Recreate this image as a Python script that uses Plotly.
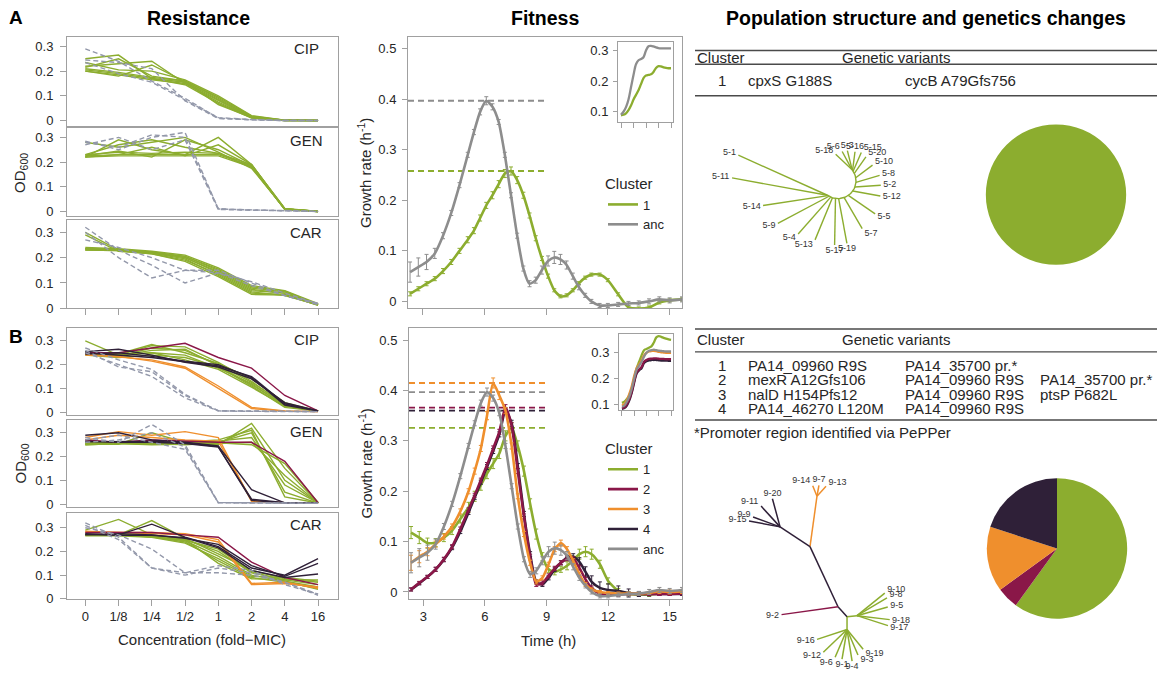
import math
import plotly.graph_objects as go

W, H = 1166, 680
FONT = 'Liberation Sans, Arial, Helvetica, sans-serif'
TXT = '#262626'
BOX = '#a0a0a0'

GREEN = '#8cad2f'
MAROON = '#8a1748'
ORANGE = '#ef8f2d'
DARK = '#2f2038'
ANC = '#8d8d8d'
ANC_DASH = '#9398aa'
COL = {'1': GREEN, '2': MAROON, '3': ORANGE, '4': DARK, 'anc': ANC}

# ---------------- Resistance (OD600 vs fold-MIC) ----------------
conc_labels = ['0', '1/8', '1/4', '1/2', '1', '2', '4', '16']
od_ticks = [0, 0.1, 0.2, 0.3]
od_ticklabels = ['0', '0.1', '0.2', '0.3']

A_CIP_c1 = [
    [0.200, 0.185, 0.165, 0.150, 0.075, 0.012, 0.000, 0.000],
    [0.205, 0.190, 0.170, 0.155, 0.085, 0.015, 0.001, 0.000],
    [0.210, 0.195, 0.175, 0.160, 0.095, 0.018, 0.002, 0.000],
    [0.250, 0.265, 0.170, 0.145, 0.070, 0.010, 0.000, 0.000],
    [0.220, 0.230, 0.240, 0.150, 0.080, 0.012, 0.000, 0.000],
    [0.235, 0.205, 0.200, 0.165, 0.100, 0.020, 0.002, 0.000],
    [0.215, 0.250, 0.180, 0.160, 0.090, 0.015, 0.001, 0.000],
    [0.200, 0.180, 0.225, 0.158, 0.065, 0.012, 0.000, 0.000],
]
A_CIP_anc = [
    [0.290, 0.240, 0.160, 0.090, 0.010, 0.003, 0.000, 0.000],
    [0.245, 0.235, 0.210, 0.080, 0.008, 0.003, 0.000, 0.000],
    [0.235, 0.190, 0.155, 0.085, 0.012, 0.004, 0.000, 0.000],
]
A_GEN_c1 = [
    [0.220, 0.225, 0.225, 0.225, 0.225, 0.180, 0.010, 0.000],
    [0.225, 0.230, 0.230, 0.230, 0.230, 0.185, 0.008, 0.000],
    [0.230, 0.240, 0.235, 0.240, 0.235, 0.190, 0.010, 0.001],
    [0.220, 0.290, 0.250, 0.230, 0.300, 0.190, 0.012, 0.000],
    [0.280, 0.260, 0.280, 0.300, 0.240, 0.175, 0.010, 0.000],
    [0.225, 0.245, 0.220, 0.290, 0.250, 0.185, 0.008, 0.000],
    [0.230, 0.270, 0.290, 0.260, 0.235, 0.180, 0.010, 0.000],
    [0.220, 0.230, 0.260, 0.225, 0.270, 0.190, 0.010, 0.000],
]
A_GEN_anc = [
    [0.285, 0.250, 0.300, 0.320, 0.010, 0.005, 0.003, 0.000],
    [0.270, 0.300, 0.250, 0.290, 0.008, 0.004, 0.003, 0.000],
    [0.280, 0.260, 0.310, 0.300, 0.012, 0.005, 0.004, 0.000],
]
A_CAR_c1 = [
    [0.235, 0.230, 0.220, 0.200, 0.140, 0.070, 0.060, 0.015],
    [0.235, 0.230, 0.222, 0.205, 0.150, 0.080, 0.065, 0.015],
    [0.230, 0.228, 0.218, 0.195, 0.130, 0.060, 0.055, 0.012],
    [0.240, 0.235, 0.225, 0.210, 0.160, 0.090, 0.070, 0.018],
    [0.300, 0.230, 0.220, 0.200, 0.145, 0.075, 0.060, 0.015],
    [0.290, 0.225, 0.215, 0.190, 0.135, 0.065, 0.050, 0.014],
    [0.235, 0.232, 0.220, 0.205, 0.155, 0.085, 0.068, 0.016],
    [0.230, 0.228, 0.215, 0.185, 0.125, 0.055, 0.052, 0.013],
]
A_CAR_anc = [
    [0.320, 0.230, 0.170, 0.100, 0.140, 0.090, 0.050, 0.015],
    [0.300, 0.200, 0.120, 0.150, 0.150, 0.100, 0.050, 0.020],
    [0.270, 0.240, 0.200, 0.150, 0.140, 0.105, 0.060, 0.018],
]

B_CIP_c1 = [
    [0.300, 0.240, 0.250, 0.240, 0.185, 0.120, 0.025, 0.005],
    [0.250, 0.240, 0.280, 0.275, 0.210, 0.130, 0.030, 0.005],
    [0.245, 0.235, 0.270, 0.260, 0.200, 0.125, 0.035, 0.005],
    [0.240, 0.230, 0.240, 0.230, 0.190, 0.110, 0.020, 0.004],
    [0.255, 0.245, 0.285, 0.250, 0.205, 0.140, 0.040, 0.005],
    [0.250, 0.238, 0.260, 0.265, 0.195, 0.115, 0.030, 0.004],
    [0.245, 0.240, 0.250, 0.220, 0.180, 0.105, 0.025, 0.005],
]
B_CIP_c2 = [[0.250, 0.250, 0.270, 0.290, 0.230, 0.185, 0.070, 0.005]]
B_CIP_c3 = [
    [0.240, 0.235, 0.215, 0.185, 0.100, 0.015, 0.004, 0.002],
    [0.245, 0.232, 0.220, 0.190, 0.110, 0.020, 0.005, 0.002],
]
B_CIP_c4 = [
    [0.255, 0.265, 0.240, 0.210, 0.190, 0.140, 0.040, 0.005],
    [0.250, 0.240, 0.230, 0.212, 0.195, 0.150, 0.035, 0.005],
    [0.245, 0.250, 0.235, 0.215, 0.200, 0.145, 0.030, 0.004],
]
B_CIP_anc = [
    [0.270, 0.220, 0.180, 0.075, 0.005, 0.004, 0.002, 0.002],
    [0.250, 0.200, 0.150, 0.060, 0.005, 0.003, 0.002, 0.002],
    [0.260, 0.190, 0.170, 0.070, 0.006, 0.004, 0.002, 0.002],
]
B_GEN_c1 = [
    [0.255, 0.255, 0.255, 0.255, 0.250, 0.340, 0.150, 0.005],
    [0.250, 0.255, 0.250, 0.252, 0.255, 0.320, 0.100, 0.005],
    [0.255, 0.260, 0.255, 0.255, 0.260, 0.300, 0.050, 0.004],
    [0.260, 0.258, 0.252, 0.258, 0.265, 0.280, 0.080, 0.005],
    [0.252, 0.252, 0.300, 0.260, 0.255, 0.260, 0.120, 0.005],
    [0.258, 0.260, 0.258, 0.262, 0.270, 0.310, 0.030, 0.004],
    [0.250, 0.255, 0.256, 0.250, 0.258, 0.250, 0.170, 0.006],
]
B_GEN_c2 = [[0.270, 0.260, 0.270, 0.265, 0.260, 0.260, 0.180, 0.005]]
B_GEN_c3 = [
    [0.280, 0.305, 0.290, 0.305, 0.280, 0.010, 0.005, 0.004],
    [0.270, 0.290, 0.280, 0.270, 0.265, 0.015, 0.005, 0.004],
]
B_GEN_c4 = [
    [0.290, 0.300, 0.270, 0.260, 0.245, 0.060, 0.005, 0.004],
    [0.265, 0.260, 0.260, 0.255, 0.240, 0.020, 0.005, 0.004],
    [0.262, 0.265, 0.265, 0.258, 0.242, 0.015, 0.004, 0.004],
]
B_GEN_anc = [
    [0.280, 0.260, 0.335, 0.250, 0.006, 0.005, 0.004, 0.003],
    [0.260, 0.270, 0.300, 0.240, 0.005, 0.004, 0.004, 0.003],
    [0.270, 0.290, 0.260, 0.230, 0.006, 0.005, 0.004, 0.003],
]
B_CAR_c1 = [
    [0.270, 0.270, 0.265, 0.250, 0.200, 0.110, 0.080, 0.060],
    [0.268, 0.268, 0.262, 0.245, 0.180, 0.100, 0.075, 0.050],
    [0.272, 0.270, 0.262, 0.240, 0.160, 0.090, 0.070, 0.045],
    [0.290, 0.335, 0.270, 0.250, 0.150, 0.085, 0.080, 0.080],
    [0.270, 0.270, 0.330, 0.255, 0.190, 0.120, 0.085, 0.070],
    [0.266, 0.266, 0.260, 0.235, 0.170, 0.095, 0.090, 0.075],
    [0.270, 0.272, 0.266, 0.248, 0.210, 0.115, 0.075, 0.040],
]
B_CAR_c2 = [[0.280, 0.280, 0.280, 0.270, 0.260, 0.155, 0.090, 0.060]]
B_CAR_c3 = [
    [0.285, 0.280, 0.280, 0.275, 0.250, 0.065, 0.070, 0.045],
    [0.280, 0.280, 0.275, 0.270, 0.240, 0.060, 0.065, 0.050],
]
B_CAR_c4 = [
    [0.275, 0.270, 0.315, 0.260, 0.220, 0.130, 0.100, 0.170],
    [0.270, 0.275, 0.270, 0.255, 0.230, 0.140, 0.095, 0.150],
    [0.272, 0.268, 0.268, 0.258, 0.215, 0.120, 0.090, 0.105],
]
B_CAR_anc = [
    [0.310, 0.250, 0.130, 0.100, 0.130, 0.110, 0.070, 0.015],
    [0.300, 0.270, 0.210, 0.110, 0.140, 0.120, 0.060, 0.020],
    [0.320, 0.260, 0.130, 0.110, 0.110, 0.100, 0.070, 0.020],
]

# ---------------- Fitness (growth rate vs time) ----------------
fit_time = [2.4, 2.8, 3.2, 3.6, 4.0, 4.4, 4.8, 5.2, 5.5, 5.8, 6.1, 6.4, 6.7, 7.0, 7.3,
            7.6, 7.9, 8.2, 8.5, 8.8, 9.1, 9.4, 9.7, 10.0, 10.3, 10.6, 10.9, 11.2, 11.6,
            12.0, 12.5, 13.0, 13.5, 14.0, 14.5, 15.0, 15.6]
time_ticks = [3, 6, 9, 12, 15]
rate_ticks = [0, 0.1, 0.2, 0.3, 0.4, 0.5]
rate_ticklabels = ['0', '0.1', '0.2', '0.3', '0.4', '0.5']

fit_anc = [0.058, 0.068, 0.078, 0.095, 0.130, 0.175, 0.230, 0.290, 0.335, 0.375, 0.397, 0.385,
           0.355, 0.290, 0.210, 0.130, 0.065, 0.035, 0.042, 0.062, 0.080, 0.087, 0.083, 0.072,
           0.050, 0.028, 0.012, 0.000, -0.008, -0.008, -0.006, -0.004, -0.003, 0.000, 0.004,
           0.002, 0.004]
fit_anc_err = [0.020, 0.018, 0.015, 0.010, 0.006, 0.005, 0.005, 0.005, 0.005, 0.006, 0.008,
               0.006, 0.005, 0.005, 0.005, 0.005, 0.005, 0.006, 0.006, 0.008, 0.010, 0.012,
               0.010, 0.008, 0.006, 0.005, 0.004, 0.004, 0.004, 0.004, 0.004, 0.004, 0.004,
               0.005, 0.005, 0.005, 0.005]
fitA_c1 = [0.015, 0.025, 0.035, 0.045, 0.060, 0.078, 0.100, 0.122, 0.140, 0.165, 0.190, 0.210,
           0.232, 0.253, 0.258, 0.240, 0.210, 0.170, 0.125, 0.085, 0.050, 0.022, 0.010, 0.012,
           0.022, 0.036, 0.047, 0.053, 0.053, 0.042, 0.014, -0.012, -0.014, -0.012, -0.002,
           0.002, 0.004]
fitA_c1_err = [0.004, 0.004, 0.004, 0.004, 0.005, 0.005, 0.005, 0.006, 0.006, 0.006, 0.006,
               0.007, 0.007, 0.008, 0.008, 0.007, 0.006, 0.005, 0.005, 0.004, 0.004, 0.003,
               0.003, 0.003, 0.003, 0.003, 0.003, 0.003, 0.003, 0.003, 0.003, 0.003, 0.003,
               0.003, 0.003, 0.003, 0.003]
fitB_c1 = [0.118, 0.108, 0.097, 0.098, 0.108, 0.122, 0.145, 0.168, 0.190, 0.212, 0.235, 0.255,
           0.275, 0.310, 0.326, 0.290, 0.240, 0.175, 0.115, 0.070, 0.045, 0.040, 0.045, 0.052,
           0.063, 0.075, 0.080, 0.075, 0.055, 0.022, 0.002, -0.004, -0.005, -0.005, -0.003,
           -0.002, -0.002]
fitB_c1_err = [0.012, 0.012, 0.010, 0.008, 0.008, 0.008, 0.008, 0.010, 0.010, 0.010, 0.010,
               0.010, 0.010, 0.010, 0.010, 0.010, 0.010, 0.010, 0.010, 0.008, 0.006, 0.006,
               0.006, 0.008, 0.008, 0.010, 0.010, 0.010, 0.008, 0.006, 0.005, 0.004, 0.004,
               0.004, 0.004, 0.004, 0.004]
fitB_c2 = [0.005, 0.018, 0.030, 0.045, 0.065, 0.090, 0.125, 0.163, 0.192, 0.222, 0.252, 0.285,
           0.318, 0.366, 0.330, 0.240, 0.150, 0.070, 0.015, 0.018, 0.032, 0.047, 0.058, 0.066,
           0.066, 0.048, 0.025, 0.008, -0.003, -0.005, -0.005, -0.004, -0.004, -0.004, -0.004,
           -0.004, -0.003]
fitB_c2_err = [0.003, 0.003, 0.003, 0.004, 0.004, 0.004, 0.004, 0.004, 0.004, 0.004, 0.005,
               0.005, 0.005, 0.006, 0.006, 0.005, 0.005, 0.005, 0.004, 0.004, 0.004, 0.004,
               0.004, 0.004, 0.004, 0.004, 0.004, 0.004, 0.004, 0.004, 0.003, 0.003, 0.003,
               0.003, 0.003, 0.003, 0.003]
fitB_c3 = [0.058, 0.070, 0.080, 0.095, 0.110, 0.130, 0.160, 0.200, 0.240, 0.285, 0.350, 0.415,
           0.390, 0.360, 0.290, 0.190, 0.115, 0.058, 0.020, 0.028, 0.055, 0.085, 0.097, 0.085,
           0.062, 0.035, 0.015, 0.005, 0.000, -0.002, -0.003, -0.003, -0.003, -0.002, 0.001,
           0.000, 0.001]
fitB_c3_err = [0.015, 0.012, 0.008, 0.006, 0.005, 0.005, 0.005, 0.005, 0.006, 0.006, 0.008,
               0.010, 0.008, 0.006, 0.006, 0.005, 0.005, 0.005, 0.004, 0.004, 0.004, 0.005,
               0.006, 0.005, 0.004, 0.004, 0.004, 0.003, 0.003, 0.003, 0.003, 0.003, 0.003,
               0.003, 0.004, 0.004, 0.004]
fitB_c4 = [0.005, 0.017, 0.030, 0.045, 0.064, 0.088, 0.120, 0.158, 0.188, 0.218, 0.248, 0.280,
           0.313, 0.360, 0.335, 0.250, 0.155, 0.075, 0.020, 0.015, 0.028, 0.045, 0.058, 0.068,
           0.070, 0.060, 0.040, 0.020, 0.008, 0.004, 0.002, -0.002, -0.004, -0.004, -0.004,
           -0.004, -0.004]
fitB_c4_err = [0.003, 0.003, 0.003, 0.004, 0.004, 0.004, 0.004, 0.004, 0.004, 0.004, 0.005,
               0.005, 0.005, 0.006, 0.006, 0.005, 0.005, 0.005, 0.004, 0.004, 0.004, 0.004,
               0.004, 0.005, 0.006, 0.008, 0.010, 0.012, 0.012, 0.012, 0.010, 0.008, 0.005,
               0.004, 0.003, 0.003, 0.003]

# insets (OD over time)
inset_time = list(range(0, 21))
inset_ticks = [0, 5, 10, 15, 20]
inset_yticks = [0.1, 0.2, 0.3]
insetA_anc = [0.09, 0.10, 0.115, 0.14, 0.18, 0.22, 0.255, 0.268, 0.272, 0.278, 0.300, 0.314,
              0.315, 0.313, 0.31, 0.308, 0.307, 0.307, 0.307, 0.307, 0.307]
insetA_c1 = [0.088, 0.09, 0.095, 0.105, 0.12, 0.14, 0.155, 0.17, 0.19, 0.21, 0.218, 0.22,
             0.222, 0.23, 0.243, 0.249, 0.248, 0.245, 0.243, 0.242, 0.242]
insetB_c1 = [0.105, 0.11, 0.12, 0.135, 0.16, 0.2, 0.24, 0.265, 0.29, 0.31, 0.315, 0.32, 0.325,
             0.34, 0.36, 0.365, 0.362, 0.358, 0.355, 0.352, 0.35]
insetB_anc = [0.09, 0.095, 0.11, 0.13, 0.16, 0.2, 0.235, 0.25, 0.265, 0.285, 0.3, 0.308, 0.31,
              0.312, 0.31, 0.308, 0.307, 0.306, 0.305, 0.305, 0.305]
insetB_c3 = [0.095, 0.1, 0.115, 0.14, 0.17, 0.21, 0.24, 0.255, 0.27, 0.29, 0.3, 0.305, 0.307,
             0.308, 0.306, 0.304, 0.302, 0.301, 0.3, 0.3, 0.3]
insetB_c2 = [0.085, 0.088, 0.1, 0.12, 0.15, 0.19, 0.225, 0.235, 0.245, 0.265, 0.272, 0.276,
             0.277, 0.278, 0.278, 0.277, 0.276, 0.276, 0.275, 0.275, 0.275]
insetB_c4 = [0.082, 0.085, 0.095, 0.115, 0.145, 0.185, 0.22, 0.232, 0.24, 0.26, 0.267, 0.27,
             0.272, 0.272, 0.272, 0.271, 0.27, 0.27, 0.27, 0.269, 0.269]

# ---------------- Population structure ----------------
pieA_clusters = ['1']
pieA_counts = [20]
pieB_clusters = ['1', '2', '3', '4']
pieB_counts = [12, 1, 3, 4]

tableA_rows = [['1', 'cpxS G188S', 'cycB A79Gfs756', '']]
tableB_rows = [
    ['1', 'PA14_09960 R9S', 'PA14_35700 pr.*', ''],
    ['2', 'mexR A12Gfs106', 'PA14_09960 R9S', 'PA14_35700 pr.*'],
    ['3', 'nalD H154Pfs12', 'PA14_09960 R9S', 'ptsP P682L'],
    ['4', 'PA14_46270 L120M', 'PA14_09960 R9S', ''],
]
tableB_note = '*Promoter region identified via PePPer'

# Tree A (radial layout: tip angle / distance, attachment angle on the backbone arc)
treeA_tips = ['5-1', '5-11', '5-14', '5-9', '5-4', '5-13', '5-17', '5-19', '5-7', '5-5',
              '5-12', '5-2', '5-8', '5-10', '5-20', '5-15', '5-16', '5-3', '5-6', '5-18']
treeA_tip_angle = [165.4, 178.4, 198.4, 215.6, 233.5, 249, 267, 278, 296.6, 318,
                   340, 354, 7.6, 24.7, 41, 51, 60, 73, 82, 95]
treeA_tip_dist = [103, 106, 79, 74, 67, 64, 65, 64, 54, 50, 45, 43, 42, 38, 37, 37, 34, 32,
                  30, 27]
treeA_attach_angle = [234, 234, 236, 240, 246, 252, 262, 272, 290, 305, 325, 340, 355, 370,
                      385, 393, 396, 398, 400, 401]
treeA_arc_radius = 18

# Tree B (unrooted; node, parent, branch angle, branch length, cluster of branch)
treeB_node = ['g0', '9-2', 'u0', 'd0', '9-15', '9-9', '9-11', '9-20', 'o0', '9-14', '9-7',
              '9-13', 'gr', '9-10', '9-8', '9-5', '9-18', '9-17', 'gl', '9-16', '9-12', '9-6',
              '9-1', '9-4', '9-3', '9-19']
treeB_parent = ['r0', 'r0', 'r0', 'u0', 'd0', 'd0', 'd0', 'd0', 'u0', 'o0', 'o0', 'o0', 'g0',
                'gr', 'gr', 'gr', 'gr', 'gr', 'g0', 'gl', 'gl', 'gl', 'gl', 'gl', 'gl', 'gl']
treeB_angle = [-48, 188, 114.7, 146.3, 169, 159.7, 132, 105, 82.2, 112, 80, 48, 6, 39.4, 31,
               16, -7, -18, -90, -161.6, -136, -113, -99.5, -81, -67, -51]
treeB_length = [13.5, 57, 67, 36, 31.6, 28.8, 28.3, 29.5, 51.5, 11.4, 11.2, 13.5, 10, 36, 35,
                32, 33, 32.6, 13, 31.6, 33, 30.5, 30.4, 32.4, 28, 25.6]
treeB_cluster = ['4', '2', '4', '4', '4', '4', '4', '4', '3', '3', '3', '3', '1', '1', '1',
                 '1', '1', '1', '1', '1', '1', '1', '1', '1', '1', '1']

# =====================================================================
fig = go.Figure()
axes = {}
annotations = []
shapes = []


def xd(a, b):
    return [a / W, b / W]


def yd(top, bottom):
    return [1 - bottom / H, 1 - top / H]


def px(x):
    return x / W


def py(y):
    return 1 - y / H


def make_axes(n, xdom, ydom, xr, yr, xkw=None, ykw=None):
    s = '' if n == 1 else str(n)
    base = dict(showline=True, mirror=True, linecolor=BOX, linewidth=1, showgrid=False,
                zeroline=False, fixedrange=True, tickcolor=BOX, ticklen=5,
                tickfont=dict(size=13, color=TXT, family=FONT))
    xa = dict(base, domain=xdom, range=xr, anchor='y' + s)
    ya = dict(base, domain=ydom, range=yr, anchor='x' + s)
    if xkw:
        xa.update(xkw)
    if ykw:
        ya.update(ykw)
    axes['xaxis' + s] = xa
    axes['yaxis' + s] = ya
    return 'x' + s, 'y' + s


def text(t, x, y, size=14, bold=False, xanchor='center', angle=0, color=TXT):
    annotations.append(dict(text=('<b>%s</b>' % t) if bold else t, x=px(x), y=py(y),
                            xref='paper', yref='paper', showarrow=False, xanchor=xanchor,
                            yanchor='middle', textangle=angle,
                            font=dict(size=size, color=color, family=FONT)))


# ---------------- Resistance panels ----------------
res_panels = [
    (37, 127, [-0.02, 0.34], 'CIP', [(A_CIP_c1, '1'), (A_CIP_anc, 'anc')], 'none'),
    (130, 219, [-0.02, 0.336], 'GEN', [(A_GEN_c1, '1'), (A_GEN_anc, 'anc')], 'none'),
    (223, 312, [0, 0.347], 'CAR', [(A_CAR_c1, '1'), (A_CAR_anc, 'anc')], 'ticks'),
    (332, 420, [-0.0125, 0.354], 'CIP', [(B_CIP_c1, '1'), (B_CIP_c3, '3'), (B_CIP_c2, '2'),
                                         (B_CIP_c4, '4'), (B_CIP_anc, 'anc')], 'none'),
    (425, 513, [-0.0125, 0.354], 'GEN', [(B_GEN_c1, '1'), (B_GEN_c3, '3'), (B_GEN_c2, '2'),
                                         (B_GEN_c4, '4'), (B_GEN_anc, 'anc')], 'none'),
    (519, 606, [0, 0.3625], 'CAR', [(B_CAR_c1, '1'), (B_CAR_c3, '3'), (B_CAR_c2, '2'),
                                    (B_CAR_c4, '4'), (B_CAR_anc, 'anc')], 'labels'),
]
conc_pos = list(range(len(conc_labels)))
for i, (top, bot, yr, drug, groups, xstyle) in enumerate(res_panels, start=1):
    xkw = dict(tickvals=conc_pos, ticktext=conc_labels,
               ticks='' if xstyle == 'none' else 'outside', ticklen=6,
               showticklabels=(xstyle == 'labels'))
    ykw = dict(tickvals=od_ticks, ticktext=od_ticklabels, ticks='outside', ticklen=6,
               ticklabelstandoff=4)
    xa, ya = make_axes(i, xd(67, 338), yd(top, bot), [-0.55, 7.6], yr, xkw, ykw)
    for series, cl in groups:
        for vals in series:
            if cl == 'anc':
                ln = dict(color=ANC_DASH, width=1.4, dash='5px,3px')
            else:
                ln = dict(color=COL[cl], width=1.4)
            fig.add_trace(go.Scatter(x=conc_pos, y=vals, mode='lines', line=ln, xaxis=xa,
                                     yaxis=ya, showlegend=False, hoverinfo='skip'))
    text(drug, 306, top + 12, size=15)

# ---------------- Fitness panels ----------------
fit_xr = [2.3, 15.6]
fit_yr = [-0.0137, 0.524]
rank = {'1': 1, '2': 2, '3': 3, '4': 4, 'anc': 5}
fit_panels = [
    (7, 408, 37, 312, False, 'legend',
     [('1', fitA_c1, fitA_c1_err), ('anc', fit_anc, fit_anc_err)]),
    (8, 409, 332, 606, True, 'legend2',
     [('1', fitB_c1, fitB_c1_err), ('4', fitB_c4, fitB_c4_err), ('2', fitB_c2, fitB_c2_err),
      ('3', fitB_c3, fitB_c3_err), ('anc', fit_anc, fit_anc_err)]),
]
for n, left, top, bot, labels, leg, series in fit_panels:
    xa, ya = make_axes(n, xd(left, 682), yd(top, bot), fit_xr, fit_yr,
                       dict(tickvals=time_ticks, ticks='outside', ticklen=6,
                            showticklabels=labels),
                       dict(tickvals=rate_ticks, ticktext=rate_ticklabels, ticks='outside',
                            ticklen=5, ticklabelstandoff=3))
    # dashed lines at maximal growth rate
    for key, vals, err in sorted(series, key=lambda s: rank[s[0]]):
        peak = max(vals)
        fig.add_trace(go.Scatter(x=[fit_xr[0], 9.05], y=[peak, peak], mode='lines',
                                 line=dict(color=COL[key], width=1.8, dash='6px,4px'),
                                 xaxis=xa, yaxis=ya, showlegend=False, hoverinfo='skip'))
    for key, vals, err in series:
        fig.add_trace(go.Scatter(
            x=fit_time, y=vals, mode='lines', name=key, legend=leg, legendrank=rank[key],
            line=dict(color=COL[key], width=2.6, shape='spline', smoothing=0.6),
            error_y=dict(type='data', array=err, color=COL[key], thickness=1, width=2),
            xaxis=xa, yaxis=ya, hoverinfo='skip'))

# insets
inset_panels = [
    (9, 618, 673, 43, 123, [0.068, 0.326], [('1', insetA_c1), ('anc', insetA_anc)]),
    (10, 619, 673, 338, 415, [0.077, 0.373], [('1', insetB_c1), ('4', insetB_c4),
                                               ('2', insetB_c2), ('3', insetB_c3),
                                               ('anc', insetB_anc)]),
]
for n, l, r, t, b, yr, series in inset_panels:
    xa, ya = make_axes(n, xd(l, r), yd(t, b), [-1.2, 20.8], yr,
                       dict(tickvals=inset_ticks, ticks='outside', ticklen=5,
                            showticklabels=False),
                       dict(tickvals=inset_yticks, ticks='outside', ticklen=4,
                            ticklabelstandoff=2))
    for key, vals in series:
        fig.add_trace(go.Scatter(x=inset_time, y=vals, mode='lines',
                                 line=dict(color=COL[key], width=2.3, shape='spline'),
                                 xaxis=xa, yaxis=ya, showlegend=False, hoverinfo='skip'))

# ---------------- Trees (pixel-space overlay) ----------------
axes['xaxis11'] = dict(domain=[0, 1], range=[0, W], visible=False, fixedrange=True,
                       anchor='y11')
axes['yaxis11'] = dict(domain=[0, 1], range=[H, 0], visible=False, fixedrange=True,
                       anchor='x11')
TREE_FS = 9


def polar(cx, cy, ang, r):
    a = math.radians(ang)
    return cx + r * math.cos(a), cy - r * math.sin(a)


def label_xy(x, y, ang, lab, fs=TREE_FS):
    # horizontal labels: left/right aligned at the tip, centred for near-vertical branches
    w = 0.55 * fs * len(lab)
    c, s = math.cos(math.radians(ang)), math.sin(math.radians(ang))
    dx = 0 if abs(c) < 0.3 else math.copysign(1.5 + w / 2, c)
    dy = -s * (fs * 0.5 + 1)
    return x + dx, y + dy


def add_tree_labels(xs, ys, labs):
    fig.add_trace(go.Scatter(x=xs, y=ys, text=labs, mode='text',
                             textfont=dict(size=TREE_FS, color='#333333', family=FONT),
                             textposition='middle center', xaxis='x11', yaxis='y11',
                             showlegend=False, hoverinfo='skip'))


# tree A
cxA, cyA = 838, 183
ex, ey = [], []
a0, a1 = min(treeA_attach_angle), max(treeA_attach_angle)
steps = 40
for k in range(steps + 1):
    x, y = polar(cxA, cyA, a0 + (a1 - a0) * k / steps, treeA_arc_radius)
    ex.append(x)
    ey.append(y)
ex.append(None)
ey.append(None)
lx, ly = [], []
for lab, ta, td, aa in zip(treeA_tips, treeA_tip_angle, treeA_tip_dist, treeA_attach_angle):
    x0, y0 = polar(cxA, cyA, aa, treeA_arc_radius)
    x1, y1 = polar(cxA, cyA, ta, td)
    ex += [x0, x1, None]
    ey += [y0, y1, None]
    ang = math.degrees(math.atan2(-(y1 - y0), x1 - x0))
    p = label_xy(x1, y1, ang, lab)
    lx.append(p[0])
    ly.append(p[1])
fig.add_trace(go.Scatter(x=ex, y=ey, mode='lines', line=dict(color=GREEN, width=1.4),
                         xaxis='x11', yaxis='y11', showlegend=False, hoverinfo='skip'))
add_tree_labels(lx, ly, treeA_tips)

# tree B
pos = {'r0': (838, 614)}
edges = {}
blx, bly, blab = [], [], []
for node, par, ang, ln, cl in zip(treeB_node, treeB_parent, treeB_angle, treeB_length,
                                  treeB_cluster):
    x0, y0 = pos[par]
    x1, y1 = polar(x0, y0, ang, ln)
    pos[node] = (x1, y1)
    e = edges.setdefault(cl, ([], []))
    e[0].extend([x0, x1, None])
    e[1].extend([y0, y1, None])
    if node.startswith('9-'):
        p = label_xy(x1, y1, ang, node)
        blx.append(p[0])
        bly.append(p[1])
        blab.append(node)
for cl in ['1', '3', '4', '2']:
    fig.add_trace(go.Scatter(x=edges[cl][0], y=edges[cl][1], mode='lines',
                             line=dict(color=COL[cl], width=1.5), xaxis='x11', yaxis='y11',
                             showlegend=False, hoverinfo='skip'))
add_tree_labels(blx, bly, blab)

# ---------------- Pies ----------------
for cl_list, counts, cx, cy, r in [(pieA_clusters, pieA_counts, 1056, 197, 71),
                                   (pieB_clusters, pieB_counts, 1057, 555, 71)]:
    fig.add_trace(go.Pie(values=counts, labels=cl_list,
                         marker=dict(colors=[COL[c] for c in cl_list], line=dict(width=0)),
                         domain=dict(x=xd(cx - r, cx + r), y=yd(cy - r, cy + r)),
                         textinfo='none', sort=False, direction='clockwise', rotation=0,
                         showlegend=False, hoverinfo='skip'))


# ---------------- Tables ----------------
def hline(y, w=1.3):
    shapes.append(dict(type='line', xref='paper', yref='paper', x0=px(695), x1=px(1157),
                       y0=py(y), y1=py(y), line=dict(color='#4a4a4a', width=w)))


col_x = [722, 746, 903, 1038]


def table(y_top, y_head, y_mid, row_ys, rows, y_bottom):
    hline(y_top, 1.5)
    text('Cluster', 695, y_head, size=15, xanchor='left')
    text('Genetic variants', 840, y_head, size=15, xanchor='left')
    hline(y_mid)
    for ry, row in zip(row_ys, rows):
        text(row[0], col_x[0], ry, size=15)
        for cx, cell in zip(col_x[1:], row[1:]):
            if cell:
                text(cell, cx, ry, size=15, xanchor='left')
    hline(y_bottom, 1.5)


table(51, 58, 65, [81], tableA_rows, 97)
table(333, 344, 356, [370, 384.5, 399, 413.5], tableB_rows, 425)
text(tableB_note, 692, 438, size=15, xanchor='left')

# ---------------- Titles & axis titles ----------------
text('A', 16, 18, size=19, bold=True, color='black')
text('B', 16, 340, size=19, bold=True, color='black')
text('Resistance', 198, 18, size=19.5, bold=True, color='black')
text('Fitness', 545, 18, size=19.5, bold=True, color='black')
text('Population structure and genetics changes', 926, 18, size=19.5, bold=True,
     color='black')
text('OD<sub>600</sub>', 21, 175, size=15, angle=-90)
text('OD<sub>600</sub>', 21, 469, size=15, angle=-90)
text('Growth rate (h<sup>-1</sup>)', 365, 175, size=15, angle=-90)
text('Growth rate (h<sup>-1</sup>)', 365, 469, size=15, angle=-90)
text('Concentration (fold\u2212MIC)', 202, 647, size=15)
text('Time (h)', 548, 648, size=15)

legend_common = dict(xanchor='left', yanchor='top', bgcolor='rgba(0,0,0,0)', borderwidth=0,
                     font=dict(size=13, color=TXT, family=FONT),
                     title=dict(text='Cluster', font=dict(size=15, color=TXT, family=FONT)),
                     itemclick=False, itemdoubleclick=False)

fig.update_layout(
    width=W, height=H, margin=dict(l=0, r=0, t=0, b=0),
    paper_bgcolor='white', plot_bgcolor='rgba(0,0,0,0)',
    font=dict(family=FONT, color=TXT),
    annotations=annotations, shapes=shapes,
    legend=dict(legend_common, x=px(603), y=py(172)),
    legend2=dict(legend_common, x=px(603), y=py(440)),
    **axes,
)

fig.write_html('out.html')
